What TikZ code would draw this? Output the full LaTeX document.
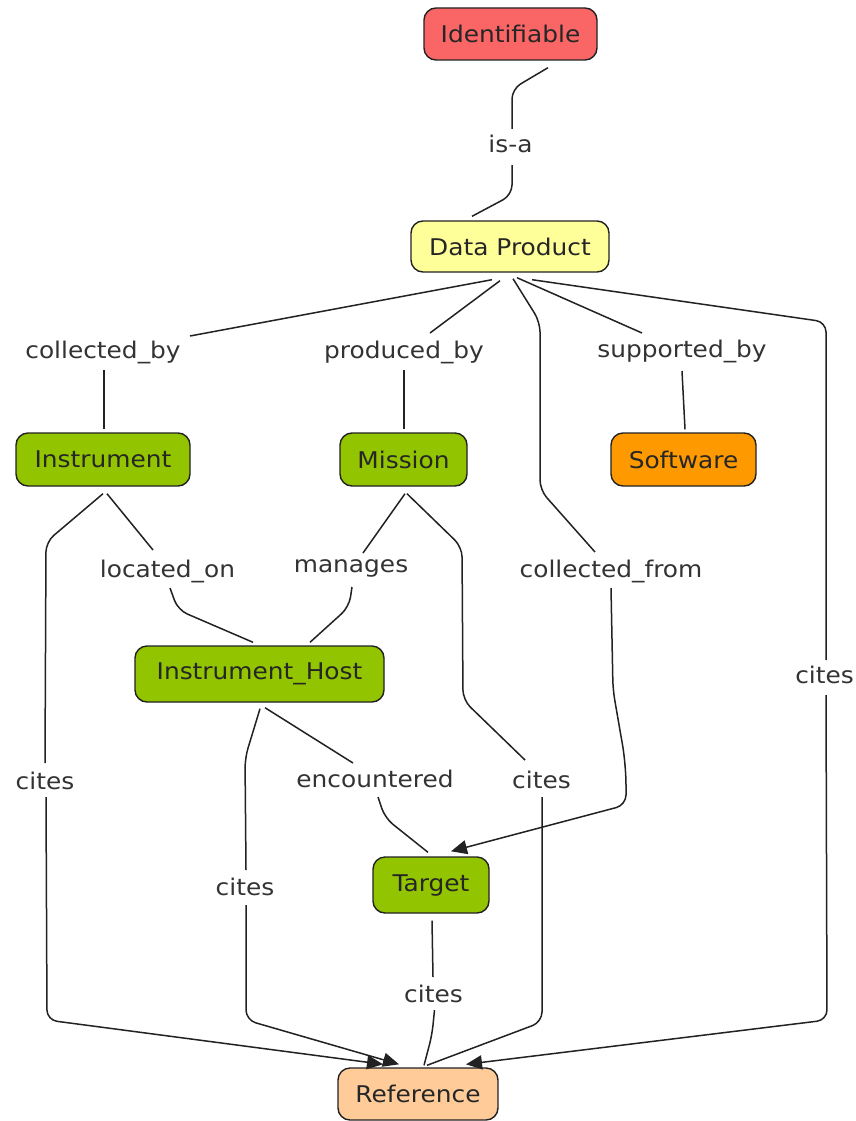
\documentclass[tikz,border=0pt]{standalone}
\usepackage{fontspec}
\setmainfont{DejaVu Sans}[FakeStretch=1.08]
\usetikzlibrary{arrows.meta}

\definecolor{idred}{RGB}{250,102,102}
\definecolor{dpyellow}{RGB}{255,255,153}
\definecolor{concgreen}{RGB}{146,196,0}
\definecolor{swor}{RGB}{255,153,0}
\definecolor{refpeach}{RGB}{255,204,153}
\definecolor{edgecol}{RGB}{34,34,34}
\definecolor{lblcol}{RGB}{51,51,51}

\tikzset{
  concept/.style={draw=edgecol, line width=1.4pt, rounded corners=12pt, inner sep=0pt,
    font=\fontsize{23}{27}\selectfont, text=black!85},
  phrase/.style={inner sep=0pt, text height=16pt, text depth=5pt,
    font=\fontsize{23}{27}\selectfont, text=lblcol},
  link/.style={draw=edgecol, line width=1.5pt, rounded corners=10pt},
  tip/.style={-{Triangle[length=16pt,width=14pt]}},
}

\begin{document}
\begin{tikzpicture}[x=1pt,y=-1pt]
\useasboundingbox (0,0) rectangle (855,1121);
\fill[white] (0,0) rectangle (855,1121);

% concepts
\node[concept, fill=idred,     minimum width=173pt, minimum height=52pt] (idf) at (510.5,34)  {Identifiable};
\node[concept, fill=dpyellow,  minimum width=198pt, minimum height=51pt] (dp)  at (510,246.5) {Data Product};
\node[concept, fill=concgreen, minimum width=174pt, minimum height=53pt] (ins) at (103,459.5) {Instrument};
\node[concept, fill=concgreen, minimum width=127pt, minimum height=53pt] (mis) at (403.5,459.5) {Mission};
\node[concept, fill=swor,      minimum width=145pt, minimum height=53pt] (sw)  at (683.5,459.5) {Software};
\node[concept, fill=concgreen, minimum width=249pt, minimum height=56pt] (ih)  at (259.5,674) {Instrument\_Host};
\node[concept, fill=concgreen, minimum width=116pt, minimum height=56pt] (tgt) at (431,885)   {Target};
\node[concept, fill=refpeach,  minimum width=160pt, minimum height=52pt] (ref) at (418,1094)  {Reference};

% linking phrases
\node[phrase] (isa)   at (510.5,147.5) {is-a};
\node[phrase] (cby)   at (103,352.5)   {collected\_by};
\node[phrase] (pby)   at (404,352.5)   {produced\_by};
\node[phrase] (sby)   at (682,351.5)   {supported\_by};
\node[phrase] (lon)   at (167.5,571.5) {located\_on};
\node[phrase] (man)   at (351,566.5)   {manages};
\node[phrase] (cfr)   at (611,571.5)   {collected\_from};
\node[phrase] (citeR) at (824.5,677.5) {cites};
\node[phrase] (citeL) at (45,783.5)    {cites};
\node[phrase] (enc)   at (375,781.5)   {encountered};
\node[phrase] (citeM) at (541.5,782.5) {cites};
\node[phrase] (citeH) at (245,889.5)   {cites};
\node[phrase] (citeT) at (433.5,996.5) {cites};

% Identifiable -- is-a -- Data Product
\draw[link] ([shift={(37.5,7)}]idf.south) -- (512,89) -- ([shift={(1.5,-18.5)}]isa.center);
\draw[link] ([shift={(1.5,17.5)}]isa.center) -- (512,195) -- ([shift={(-38,-4)}]dp.north);

% Data Product -- collected_by -- Instrument
\draw[link] ([shift={(-18,7)}]dp.south) -- ([shift={(87,-16.5)}]cby.center);
\draw[link] ([shift={(1,17.5)}]cby.center) -- ([shift={(1,-3)}]ins.north);

% Data Product -- produced_by -- Mission
\draw[link] ([shift={(-10,8)}]dp.south) -- ([shift={(26,-19.5)}]pby.center);
\draw[link] ([shift={(0,17.5)}]pby.center) -- ([shift={(0.5,-3)}]mis.north);

% Data Product -- supported_by -- Software
\draw[link] ([shift={(7,5)}]dp.south) -- ([shift={(-40,-18.5)}]sby.center);
\draw[link] ([shift={(0,19.5)}]sby.center) -- ([shift={(1.5,-3)}]sw.north);

% Data Product -- cites -- Reference
\draw[link] ([shift={(22,7)}]dp.south) -- (826,322) -- ([shift={(1.5,-17.5)}]citeR.center);
\draw[link,tip] ([shift={(1.5,17.5)}]citeR.center) -- (827,1020) -- ([shift={(48,-3)}]ref.north);

% Data Product -- collected_from -- Target
\draw[link] ([shift={(3,6)}]dp.south) -- (540,322) -- (540,490) -- ([shift={(-16,-19.5)}]cfr.center);
\draw[link,tip] ([shift={(0,16.5)}]cfr.center) -- (613,690) [rounded corners=20pt] -- (626,765) [rounded corners=10pt] -- (626,805) -- ([shift={(20,-5)}]tgt.north);

% Instrument -- located_on -- Instrument_Host
\draw[link] ([shift={(4,7)}]ins.south) -- ([shift={(-14.5,-21.5)}]lon.center);
\draw[link] ([shift={(2.5,16.5)}]lon.center) -- (178,610) -- ([shift={(-6.5,-3)}]ih.north);

% Instrument -- cites -- Reference
\draw[link] ([shift={(0,7)}]ins.south) -- (46,542) -- ([shift={(0,-20.5)}]citeL.center);
\draw[link,tip] ([shift={(1,13.5)}]citeL.center) -- (47,1020) -- ([shift={(-35,-3)}]ref.north);

% Mission -- manages -- Instrument_Host
\draw[link] ([shift={(1.5,7)}]mis.south) -- ([shift={(12,-13.5)}]man.center);
\draw[link] ([shift={(1,20.5)}]man.center) -- (349,607) -- ([shift={(50.5,-3)}]ih.north);

% Mission -- cites -- Reference
\draw[link] ([shift={(3.5,7)}]mis.south) -- (462,547) -- (463,700) -- ([shift={(-16.5,-22.5)}]citeM.center);
\draw[link] ([shift={(0.5,14.5)}]citeM.center) -- (542,1022) -- ([shift={(9,-2)}]ref.north);

% Instrument_Host -- cites -- Reference
\draw[link] ([shift={(0.5,6)}]ih.south) -- (245,758) -- ([shift={(1,-19.5)}]citeH.center);
\draw[link,tip] ([shift={(1,15.5)}]citeH.center) -- (246,1020) -- ([shift={(-19,-3)}]ref.north);

% Instrument_Host -- encountered -- Target
\draw[link] ([shift={(5.5,5)}]ih.south) -- ([shift={(-22,-18.5)}]enc.center);
\draw[link] ([shift={(3,15.5)}]enc.center) -- (385,818) -- ([shift={(-3,-4)}]tgt.north);

% Target -- cites -- Reference
\draw[link] ([shift={(1,7)}]tgt.south) -- ([shift={(-0.5,-19.5)}]citeT.center);
\draw[link] ([shift={(1,13.5)}]citeT.center) -- (432,1035) -- ([shift={(6,-2)}]ref.north);
\end{tikzpicture}
\end{document}
